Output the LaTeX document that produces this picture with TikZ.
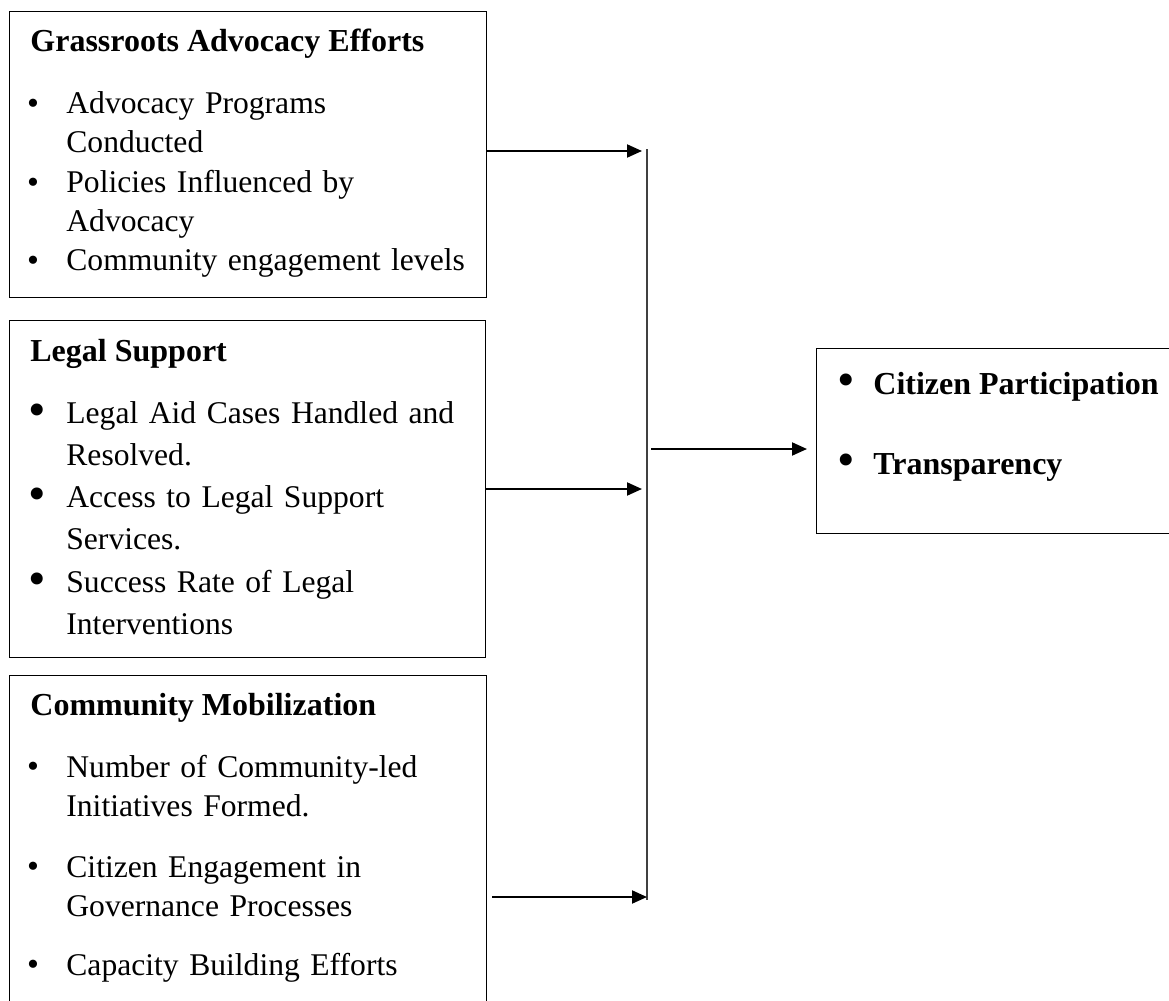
\documentclass[tikz,border=0pt]{standalone}
\usepackage{fontspec}
\setmainfont{Liberation Serif}
\usetikzlibrary{arrows.meta}
\begin{document}
\begin{tikzpicture}[
    x=0.5pt, y=-0.5pt,
    box/.style={rectangle, draw, line width=0.6pt, inner sep=0pt, anchor=north west},
    head/.style={anchor=base west, inner sep=0pt, font=\fontsize{16}{20}\selectfont\bfseries},
    item/.style={anchor=base west, inner sep=0pt, text width=215pt, align=left},
    dot/.style={anchor=center, inner sep=0pt, font=\fontsize{17}{17}\selectfont},
    bigdot/.style={anchor=center, inner sep=0pt, font=\fontsize{25}{25}\selectfont},
    arrow/.style={line width=1pt, -{Triangle[length=7.5pt,width=6.5pt]}}
]
    \useasboundingbox (0,0) rectangle (1169,1001);

    % Boxes
    \node [box, minimum width=238.5pt, minimum height=143pt] (grass) at (9,11) {};
    \node [box, minimum width=238pt, minimum height=168.5pt] (legal) at (9,320) {};
    \node [box, minimum width=238.5pt, minimum height=172pt] (mobil) at (9,675) {};
    \node [box, minimum width=190pt, minimum height=92.5pt] (result) at (816,348) {};

    % Grassroots advocacy
    \node [head] (gt) at (30,51) {Grassroots Advocacy Efforts};
    \node [dot] (gd1) at (33,107) {\textbullet};
    \node [item, font=\fontsize{15.8}{19.65}\selectfont] (g1) at (66,113) {Advocacy Programs\\Conducted};
    \node [dot] (gd2) at (33,186) {\textbullet};
    \node [item, font=\fontsize{15.8}{19.65}\selectfont] (g2) at (66,192) {Policies Influenced by\\Advocacy};
    \node [dot] (gd3) at (33,264) {\textbullet};
    \node [item, font=\fontsize{15.8}{19.65}\selectfont] (g3) at (66,270) {Community engagement levels};

    % Legal support
    \node [head] (lt) at (30,361) {Legal Support};
    \node [bigdot] (ld1) at (37,415) {\textbullet};
    \node [item, font=\fontsize{15.8}{21}\selectfont] (l1) at (66,423) {Legal Aid Cases Handled and\\Resolved.};
    \node [bigdot] (ld2) at (37,499) {\textbullet};
    \node [item, font=\fontsize{15.8}{21}\selectfont] (l2) at (66,507) {Access to Legal Support\\Services.};
    \node [bigdot] (ld3) at (37,584) {\textbullet};
    \node [item, font=\fontsize{15.8}{21}\selectfont] (l3) at (66,592) {Success Rate of Legal\\Interventions};

    % Community mobilization
    \node [head] (mt) at (30,715) {Community Mobilization};
    \node [dot] (md1) at (33,770) {\textbullet};
    \node [item, font=\fontsize{15.8}{19.5}\selectfont] (m1) at (66,777) {Number of Community-led\\Initiatives Formed.};
    \node [dot] (md2) at (33,870) {\textbullet};
    \node [item, font=\fontsize{15.8}{19.5}\selectfont] (m2) at (66,877) {Citizen Engagement in\\Governance Processes};
    \node [dot] (md3) at (33,968) {\textbullet};
    \node [item, font=\fontsize{15.8}{19.5}\selectfont] (m3) at (66,975) {Capacity Building Efforts};

    % Outcomes
    \node [bigdot] (rd1) at (846,385) {\textbullet};
    \node [head] (r1) at (873,394) {Citizen Participation};
    \node [bigdot] (rd2) at (846,465) {\textbullet};
    \node [head] (r2) at (873,474) {Transparency};

    % Collecting bar
    \coordinate (bartop) at (647,149);
    \coordinate (barbot) at (647,900);
    \draw [line width=0.7pt, black!75] (bartop) -- (barbot);
    \coordinate (in1) at (642,151);
    \coordinate (in2) at (642,489);
    \coordinate (in3) at (647,897);
    \coordinate (hub) at (651,449);
    \coordinate (out) at (807,449);

    % Arrows
    \draw [arrow] (grass.east |- in1) -- (in1);
    \draw [arrow] (legal.east |- in2) -- (in2);
    \draw [arrow] ([xshift=2.5pt]mobil.east |- in3) -- (in3);
    \draw [arrow] (hub) -- (out);
\end{tikzpicture}
\end{document}
